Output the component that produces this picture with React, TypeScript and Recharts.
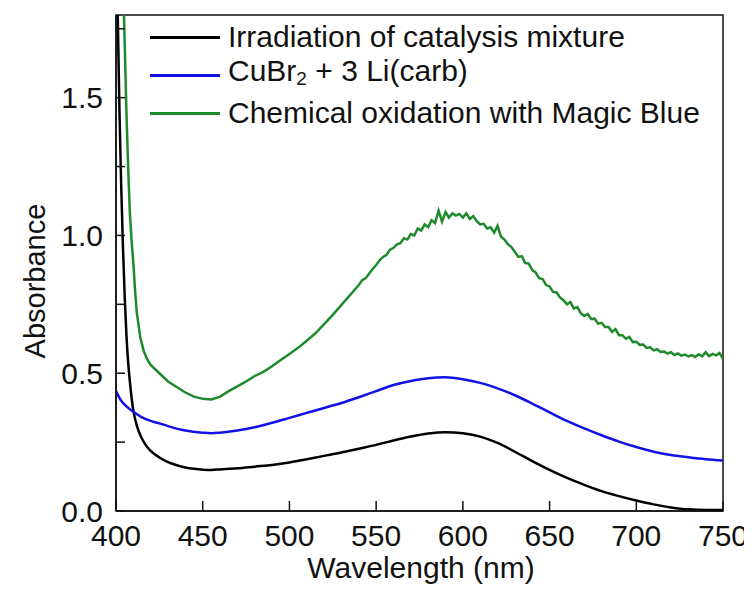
import React from "react";
import { Legend, Line, LineChart, ReferenceArea, XAxis, YAxis } from "recharts";

const FONT = "'Liberation Sans', Arial, sans-serif";

// Irradiation of catalysis mixture (black)
const irrWl = [
  400, 401, 402, 403, 404, 405, 406, 407, 408, 409, 410, 412, 415, 418, 420, 425, 430, 435, 440, 445, 450, 455, 460,
  470, 480, 490, 500, 510, 520, 530, 540, 550, 560, 570, 580, 590, 600, 610, 620, 630, 640, 650, 660, 670, 680, 690,
  700, 710, 720, 730, 740, 750,
];
const irrAbs = [
  2.3, 1.8, 1.45, 1.18, 0.96, 0.78, 0.64, 0.54, 0.47, 0.41, 0.365, 0.31, 0.262, 0.232, 0.218, 0.194, 0.177, 0.166,
  0.158, 0.153, 0.15, 0.149, 0.151, 0.155, 0.161, 0.167, 0.176, 0.188, 0.2, 0.212, 0.226, 0.24, 0.256, 0.27, 0.281,
  0.286, 0.282, 0.27, 0.247, 0.215, 0.181, 0.149, 0.12, 0.095, 0.072, 0.054, 0.038, 0.024, 0.013, 0.006, 0.004, 0.004,
];

// CuBr2 + 3 Li(carb) (blue)
const cuWl = [
  400, 403, 406, 410, 415, 420, 425, 430, 440, 450, 455, 460, 470, 480, 490, 500, 510, 520, 530, 540, 550, 560, 570,
  580, 590, 600, 610, 620, 630, 640, 650, 660, 670, 680, 690, 700, 710, 720, 730, 740, 750,
];
const cuAbs = [
  0.435, 0.4, 0.38, 0.36, 0.34, 0.327, 0.318, 0.308, 0.292, 0.284, 0.282, 0.284, 0.292, 0.304, 0.32, 0.338, 0.356,
  0.374, 0.392, 0.413, 0.435, 0.457, 0.472, 0.482, 0.485, 0.478, 0.465, 0.445, 0.42, 0.39, 0.358, 0.327, 0.3, 0.275,
  0.252, 0.232, 0.215, 0.203, 0.195, 0.188, 0.183,
];

// Chemical oxidation with Magic Blue (green)
const mbWl = [
  403, 404.6, 406, 407, 408, 409, 410, 411, 412, 414, 416, 418, 420, 425, 430, 435, 440, 445, 450, 455, 460, 465, 470,
  475, 480, 485, 490, 495, 500, 505, 510, 515, 520, 525, 530, 535, 540, 542, 544, 546, 548, 550, 552, 554, 556, 558,
  560, 562, 564, 566, 568, 570, 572, 574, 576, 578, 580, 582, 584, 586, 588, 590, 592, 594, 596, 598, 600, 602, 604,
  606, 608, 610, 612, 614, 616, 618, 620, 622, 624, 626, 628, 630, 632, 634, 636, 638, 640, 642, 644, 646, 648, 650,
  652, 654, 656, 658, 660, 662, 664, 666, 668, 670, 672, 674, 676, 678, 680, 682, 684, 686, 688, 690, 692, 694, 696,
  698, 700, 702, 704, 706, 708, 710, 712, 714, 716, 718, 720, 722, 724, 726, 728, 730, 732, 734, 736, 738, 740, 742,
  744, 746, 748, 750,
];
const mbAbs = [
  2.2, 1.8, 1.45, 1.25, 1.08, 0.98, 0.9, 0.8, 0.72, 0.63, 0.58, 0.55, 0.53, 0.5, 0.47, 0.45, 0.43, 0.415, 0.407,
  0.405, 0.415, 0.435, 0.452, 0.47, 0.49, 0.505, 0.525, 0.548, 0.57, 0.592, 0.618, 0.645, 0.678, 0.712, 0.748, 0.784,
  0.82, 0.838, 0.845, 0.862, 0.878, 0.893, 0.91, 0.922, 0.93, 0.948, 0.955, 0.968, 0.972, 0.99, 0.985, 1.005, 1.0,
  1.025, 1.018, 1.04, 1.03, 1.055, 1.045, 1.09, 1.05, 1.085, 1.065, 1.08, 1.072, 1.078, 1.065, 1.08, 1.06, 1.07,
  1.052, 1.04, 1.042, 1.025, 1.03, 1.01, 1.035, 0.995, 0.985, 0.968, 0.958, 0.94, 0.922, 0.925, 0.9, 0.898, 0.875,
  0.865, 0.845, 0.842, 0.82, 0.815, 0.795, 0.793, 0.775, 0.765, 0.75, 0.758, 0.735, 0.74, 0.718, 0.708, 0.715, 0.697,
  0.698, 0.68, 0.683, 0.668, 0.668, 0.65, 0.66, 0.638, 0.638, 0.625, 0.632, 0.613, 0.614, 0.603, 0.604, 0.592, 0.594,
  0.583, 0.587, 0.577, 0.579, 0.571, 0.576, 0.566, 0.572, 0.564, 0.568, 0.561, 0.566, 0.559, 0.569, 0.561, 0.576,
  0.562, 0.57, 0.565, 0.573, 0.552,
];

const xTicks = [400, 450, 500, 550, 600, 650, 700, 750];
const yTicks = [0, 0.25, 0.5, 0.75, 1.0, 1.25, 1.5, 1.75];
const yLabelled = [0, 0.5, 1.0, 1.5];

const zip = (wl: number[], abs: number[]) => wl.map((w, i) => ({ wl: w, abs: abs[i] }));

const series = [
  { name: "Irradiation of catalysis mixture", color: "#000000", data: zip(irrWl, irrAbs), curve: "monotone" },
  { name: "CuBr₂ + 3 Li(carb)", color: "#1212e6", data: zip(cuWl, cuAbs), curve: "monotone" },
  { name: "Chemical oxidation with Magic Blue", color: "#1f8a2c", data: zip(mbWl, mbAbs), curve: "linear" },
];
const seriesNames = series.map((s) => s.name);

function legendText(value: string) {
  if (!value.includes("₂")) return value;
  const [a, b] = value.split("₂");
  return (
    <>
      {a}
      <sub style={{ fontSize: 19, verticalAlign: -4 }}>2</sub>
      {b}
    </>
  );
}

function renderLegend(props: any) {
  const items = [...props.payload].sort((p: any, q: any) => seriesNames.indexOf(p.value) - seriesNames.indexOf(q.value));
  return (
    <div style={{ fontFamily: FONT, fontSize: 30, color: "#111" }}>
      {items.map((entry: any) => (
        <div key={entry.value} style={{ display: "flex", alignItems: "center", height: 38, whiteSpace: "nowrap" }}>
          <span style={{ display: "inline-block", width: 70, height: 3, background: entry.color, marginRight: 8 }} />
          <span style={{ lineHeight: "38px" }}>{legendText(entry.value)}</span>
        </div>
      ))}
    </div>
  );
}

const tickStyle = { fill: "#111", fontSize: 30, fontFamily: FONT };

export default function App() {
  return (
    <LineChart width={744} height={583} margin={{ top: 7, right: 29, bottom: 20, left: 8 }} style={{ overflow: "visible" }}>
      <XAxis
        dataKey="wl"
        type="number"
        domain={[400, 750]}
        allowDataOverflow
        ticks={xTicks}
        height={60}
        tickSize={-10}
        tickMargin={24}
        tick={tickStyle}
        stroke="#111"
        strokeWidth={1.5}
        label={{
          content: () => (
            <text x={413} y={570} textAnchor="middle" fontSize={30} fontFamily={FONT} fill="#111">
              Wavelength (nm)
            </text>
          ),
        }}
      />
      <YAxis
        type="number"
        domain={[0, 1.8]}
        allowDataOverflow
        ticks={yTicks}
        interval={0}
        width={100}
        tickSize={-9}
        tickMargin={22}
        tick={tickStyle}
        tickFormatter={(v: number) => (yLabelled.includes(v) ? v.toFixed(1) : "")}
        stroke="#111"
        strokeWidth={1.5}
        label={{
          content: () => (
            <text x={27} y={273} transform="rotate(-90 27 273)" textAnchor="middle" dominantBaseline="central" fontSize={29} fontFamily={FONT} fill="#111">
              Absorbance
            </text>
          ),
        }}
      />
      <ReferenceArea x1={400} x2={750} y1={0} y2={1.8} fill="none" stroke="#111" strokeWidth={1.5} ifOverflow="visible" />
      <Legend
        layout="vertical"
        align="center"
        verticalAlign="middle"
        content={renderLegend}
        wrapperStyle={{ left: 142, top: 10, width: "auto", height: "auto" }}
      />
      {series.map((s) => (
        <Line
          key={s.name}
          data={s.data}
          dataKey="abs"
          name={s.name}
          type={s.curve as any}
          stroke={s.color}
          strokeWidth={2.5}
          dot={false}
          isAnimationActive={false}
        />
      ))}
    </LineChart>
  );
}
